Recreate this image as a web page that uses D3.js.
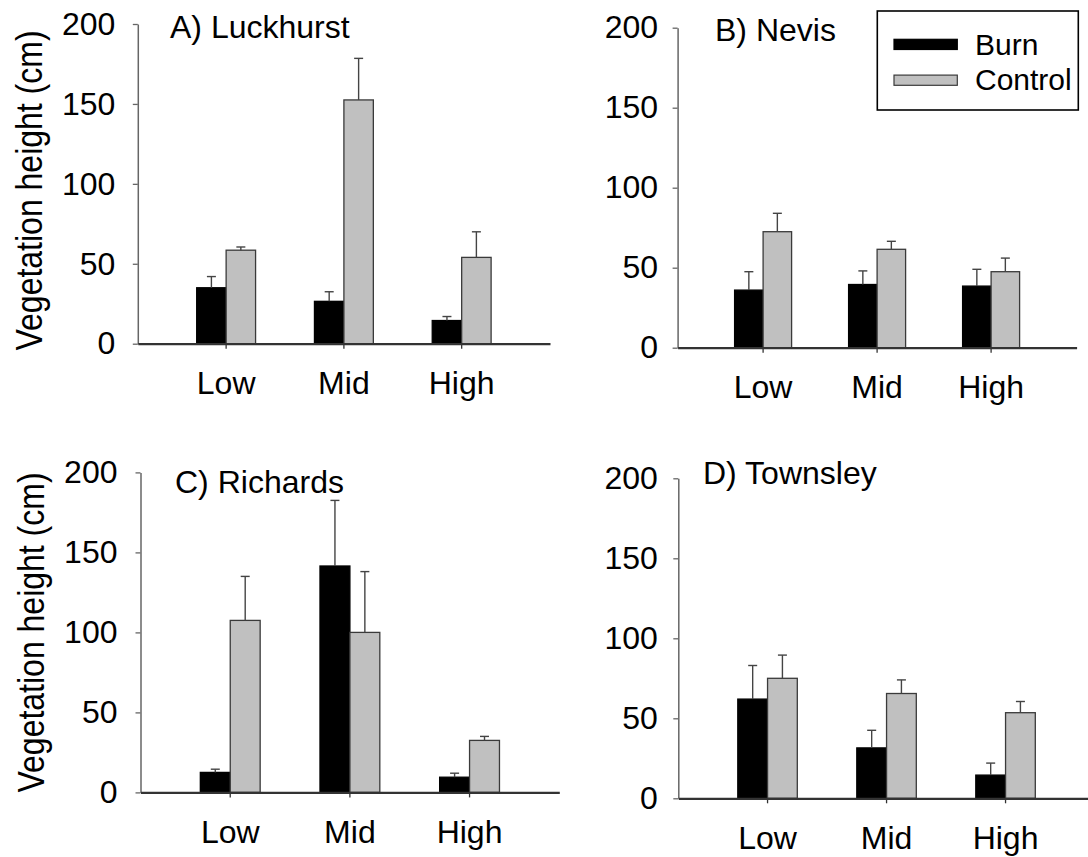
<!DOCTYPE html>
<html>
<head>
<meta charset="utf-8">
<script src="https://cdn.jsdelivr.net/npm/d3@7"></script>
<style>
  html, body { margin: 0; padding: 0; background: #fff; }
  svg { display: block; font-family: "Liberation Sans", Arial, Helvetica, sans-serif; }
</style>
</head>
<body>
<svg id="chart" width="1088" height="857"></svg>
<script>
// ---- data: mean vegetation height (cm) and standard error, per site ----
const categories = ["Low", "Mid", "High"];
const seriesNames = ["Burn", "Control"];
const siteTitles = ["A) Luckhurst", "B) Nevis", "C) Richards", "D) Townsley"];
const yTicks = [0, 50, 100, 150, 200];

// rows: Luckhurst, Nevis, Richards, Townsley; columns: Low, Mid, High
const burnMean = [
  [35, 26.5, 14.5],
  [36, 39.5, 38.5],
  [12.5, 141.5, 9.5],
  [62, 31.5, 14.5]
];
const burnSE = [
  [7, 6, 2.5],
  [11.5, 8.5, 10.5],
  [2, 41, 2.5],
  [21, 11, 7.5]
];
const controlMean = [
  [58.5, 152.5, 54],
  [72.5, 61.5, 47.5],
  [107.5, 100, 32.5],
  [75, 65.5, 53.5]
];
const controlSE = [
  [2, 26, 16],
  [11.5, 5, 8.5],
  [27.5, 38, 2.5],
  [14.5, 8.5, 7]
];

// ---- layout of the four panels (pixels) ----
const panels = [
  { left: 137.8, right: 550,    top: 24,    bottom: 343.7, titleX: 170, titleY: 37.5,  yPad: 17.5, yTitle: { x: 42, y: 190.5 } },
  { left: 677.6, right: 1076.6, top: 27.7,  bottom: 347.7, titleX: 715, titleY: 40.5,  yPad: 14.5, yTitle: null },
  { left: 140.5, right: 559.3,  top: 472.4, bottom: 792.4, titleX: 175, titleY: 492.5, yPad: 18,   yTitle: { x: 44, y: 632.5 } },
  { left: 678.3, right: 1094.8, top: 478.3, bottom: 798.3, titleX: 703, titleY: 483.5, yPad: 15.5, yTitle: null }
];

const FONT = 32;
const colors = { Burn: "#000000", Control: "#c0c0c0" };
const strokes = { Burn: "#000000", Control: "#3a3a3a" };

const svg = d3.select("#chart");

panels.forEach((p, i) => {
  const g = svg.append("g");

  const x = d3.scaleBand()
    .domain(categories)
    .range([p.left, p.right])
    .paddingInner(0)
    .paddingOuter(0.25);

  // the two bars of a group share the middle half of each band
  const xs = d3.scaleBand()
    .domain(seriesNames)
    .range([0, x.bandwidth()])
    .paddingInner(0)
    .paddingOuter(1)
    .align(0.5);

  const y = d3.scaleLinear().domain([0, 200]).range([p.bottom, p.top]);

  const rows = categories.map((c, j) => ({
    cat: c,
    values: [
      { s: "Burn", v: burnMean[i][j], se: burnSE[i][j] },
      { s: "Control", v: controlMean[i][j], se: controlSE[i][j] }
    ]
  }));

  // bars
  const groups = g.selectAll("g.grp").data(rows).join("g")
    .attr("class", "grp")
    .attr("transform", d => `translate(${x(d.cat)},0)`);

  groups.selectAll("rect").data(d => d.values).join("rect")
    .attr("x", d => xs(d.s))
    .attr("width", xs.bandwidth())
    .attr("y", d => y(d.v))
    .attr("height", d => y(0) - y(d.v))
    .attr("fill", d => colors[d.s])
    .attr("stroke", d => strokes[d.s])
    .attr("stroke-width", 1.3);

  // upward error bars
  const eb = groups.selectAll("g.err").data(d => d.values).join("g").attr("class", "err");
  eb.append("line")
    .attr("x1", d => xs(d.s) + xs.bandwidth() / 2)
    .attr("x2", d => xs(d.s) + xs.bandwidth() / 2)
    .attr("y1", d => y(d.v))
    .attr("y2", d => y(d.v + d.se))
    .attr("stroke", "#444").attr("stroke-width", 1.4);
  eb.append("line")
    .attr("x1", d => xs(d.s) + xs.bandwidth() / 2 - 4.5)
    .attr("x2", d => xs(d.s) + xs.bandwidth() / 2 + 4.5)
    .attr("y1", d => y(d.v + d.se))
    .attr("y2", d => y(d.v + d.se))
    .attr("stroke", "#444").attr("stroke-width", 1.4);

  // y axis
  const yAxis = g.append("g")
    .attr("transform", `translate(${p.left},0)`)
    .call(d3.axisLeft(y).tickValues(yTicks).tickSize(5).tickSizeOuter(0).tickPadding(p.yPad));
  yAxis.select(".domain").attr("stroke", "#666").attr("stroke-width", 1.5);
  yAxis.selectAll(".tick line").attr("stroke", "#666").attr("stroke-width", 1.3);
  yAxis.selectAll(".tick text").attr("font-size", FONT).attr("fill", "#000")
    .attr("font-family", "Liberation Sans, Arial, sans-serif");

  // x axis
  const xAxis = g.append("g")
    .attr("transform", `translate(0,${p.bottom})`)
    .call(d3.axisBottom(x).tickSize(5).tickSizeOuter(0).tickPadding(22.8));
  xAxis.select(".domain").attr("stroke", "#333").attr("stroke-width", 2.2);
  xAxis.selectAll(".tick line").attr("stroke", "#333").attr("stroke-width", 1.3);
  xAxis.selectAll(".tick text").attr("font-size", FONT).attr("fill", "#000")
    .attr("font-family", "Liberation Sans, Arial, sans-serif");

  // panel title
  g.append("text")
    .attr("x", p.titleX).attr("y", p.titleY)
    .attr("font-size", FONT).attr("fill", "#000")
    .text(siteTitles[i]);

  // y axis title on the left-hand panels (glyphs slightly tall)
  if (p.yTitle) {
    g.append("text")
      .attr("transform", `translate(${p.yTitle.x},${p.yTitle.y}) rotate(-90) scale(1,1.16)`)
      .attr("text-anchor", "middle")
      .attr("font-size", FONT).attr("fill", "#000")
      .text("Vegetation height (cm)");
  }
});

// legend
const legend = svg.append("g");
legend.append("rect")
  .attr("x", 877.3).attr("y", 11).attr("width", 201).attr("height", 99)
  .attr("fill", "#fff").attr("stroke", "#000").attr("stroke-width", 1.6);
seriesNames.forEach((s, k) => {
  legend.append("rect")
    .attr("x", 894).attr("y", 39.3 + k * 35.8)
    .attr("width", 63.3).attr("height", 10.2)
    .attr("fill", colors[s]).attr("stroke", strokes[s]).attr("stroke-width", 1.2);
  legend.append("text")
    .attr("x", 975).attr("y", 55 + k * 34.5)
    .attr("font-size", 30).attr("fill", "#000")
    .text(s);
});
</script>
</body>
</html>
